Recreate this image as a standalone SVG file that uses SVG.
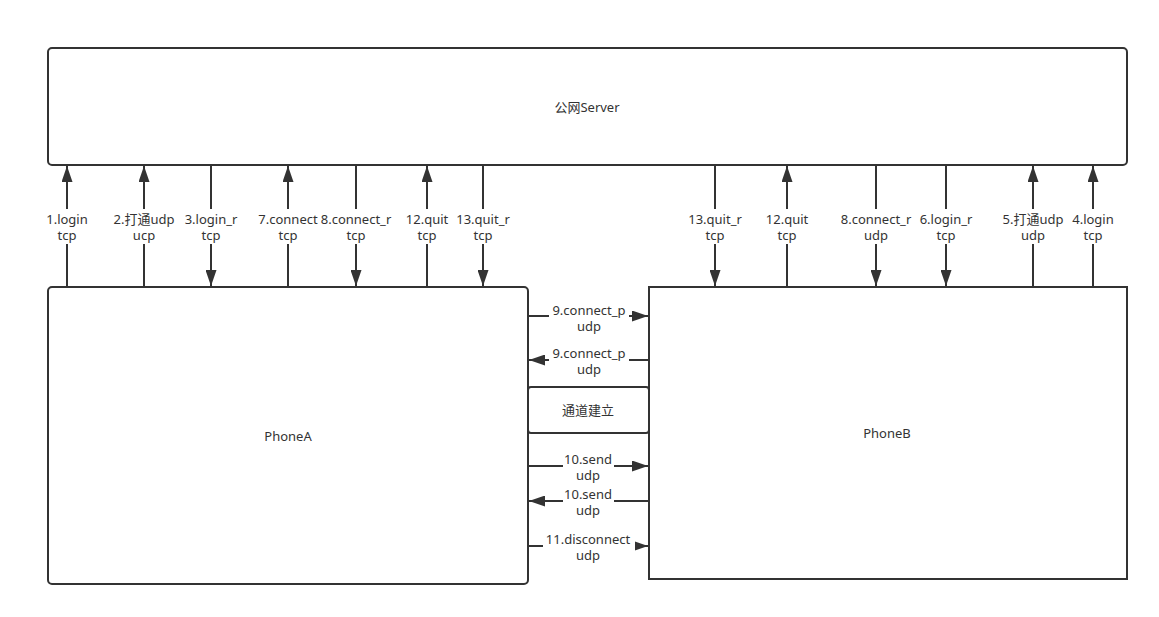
<svg xmlns="http://www.w3.org/2000/svg" width="1159" height="617" viewBox="0 0 1159 617">
<style>
.box{fill:#fff;stroke:#333;stroke-width:2}
.ln{stroke:#333;stroke-width:2;fill:none}
.up{marker-end:url(#ah)}
.t{font-family:"Noto Sans","Noto Sans CJK SC",sans-serif;font-size:13px;fill:#333;text-anchor:middle}
.bg{fill:#fff}
</style>
<defs>
<marker id="ah" markerUnits="userSpaceOnUse" markerWidth="16" markerHeight="11" refX="16" refY="5.5" orient="auto">
<path d="M0,0 L16,5.5 L0,11 z" fill="#333"/>
</marker>
</defs>
<rect width="1159" height="617" fill="#fff"/>
<g id="server"><rect class="box" x="48" y="48" width="1079" height="117" rx="4"/><text class="t" x="587" y="112">公网Server</text></g>
<g id="phoneA"><rect class="box" x="48" y="287" width="480" height="297" rx="4"/><text class="t" x="288" y="441">PhoneA</text></g>
<g id="phoneB"><rect class="box" x="649" y="287" width="478" height="292"/><text class="t" x="887" y="438">PhoneB</text></g>
<g id="tunnel"><rect class="box" x="528" y="387" width="121" height="46" rx="3"/><text class="t" x="588" y="415">通道建立</text></g>
<g id="connectors">
<line class="ln up" x1="67" y1="286" x2="67" y2="166"/>
<line class="ln up" x1="144" y1="286" x2="144" y2="166"/>
<line class="ln up" x1="211" y1="166" x2="211" y2="286"/>
<line class="ln up" x1="288" y1="286" x2="288" y2="166"/>
<line class="ln up" x1="356" y1="166" x2="356" y2="286"/>
<line class="ln up" x1="427" y1="286" x2="427" y2="166"/>
<line class="ln up" x1="483" y1="166" x2="483" y2="286"/>
<line class="ln up" x1="715" y1="166" x2="715" y2="286"/>
<line class="ln up" x1="787" y1="286" x2="787" y2="166"/>
<line class="ln up" x1="876" y1="166" x2="876" y2="286"/>
<line class="ln up" x1="946" y1="166" x2="946" y2="286"/>
<line class="ln up" x1="1033" y1="286" x2="1033" y2="166"/>
<line class="ln up" x1="1093" y1="286" x2="1093" y2="166"/>
<line class="ln up" x1="529" y1="316" x2="648" y2="316"/>
<line class="ln up" x1="648" y1="360" x2="529" y2="360"/>
<line class="ln up" x1="529" y1="466" x2="648" y2="466"/>
<line class="ln up" x1="648" y1="501" x2="529" y2="501"/>
<line class="ln up" x1="529" y1="546" x2="648" y2="546"/>
<g id="labels">
<rect class="bg" x="44" y="209" width="46" height="35"/>
<rect class="bg" x="113" y="209" width="62" height="35"/>
<rect class="bg" x="184" y="209" width="54" height="35"/>
<rect class="bg" x="256" y="209" width="64" height="35"/>
<rect class="bg" x="320" y="209" width="72" height="35"/>
<rect class="bg" x="403" y="209" width="48" height="35"/>
<rect class="bg" x="455" y="209" width="56" height="35"/>
<rect class="bg" x="688" y="209" width="54" height="35"/>
<rect class="bg" x="763" y="209" width="48" height="35"/>
<rect class="bg" x="838" y="209" width="76" height="35"/>
<rect class="bg" x="918" y="209" width="56" height="35"/>
<rect class="bg" x="1002" y="209" width="62" height="35"/>
<rect class="bg" x="1070" y="209" width="46" height="35"/>
<rect class="bg" x="549" y="303" width="80" height="30"/>
<rect class="bg" x="549" y="346" width="80" height="30"/>
<rect class="bg" x="563" y="452" width="51" height="30"/>
<rect class="bg" x="563" y="487" width="51" height="30"/>
<rect class="bg" x="543" y="532" width="92" height="30"/>
<text class="t" x="67" y="224">1.login<tspan x="67" dy="16">tcp</tspan></text>
<text class="t" x="144" y="224">2.打通udp<tspan x="144" dy="16">ucp</tspan></text>
<text class="t" x="211" y="224">3.login_r<tspan x="211" dy="16">tcp</tspan></text>
<text class="t" x="288" y="224">7.connect<tspan x="288" dy="16">tcp</tspan></text>
<text class="t" x="356" y="224">8.connect_r<tspan x="356" dy="16">tcp</tspan></text>
<text class="t" x="427" y="224">12.quit<tspan x="427" dy="16">tcp</tspan></text>
<text class="t" x="483" y="224">13.quit_r<tspan x="483" dy="16">tcp</tspan></text>
<text class="t" x="715" y="224">13.quit_r<tspan x="715" dy="16">tcp</tspan></text>
<text class="t" x="787" y="224">12.quit<tspan x="787" dy="16">tcp</tspan></text>
<text class="t" x="876" y="224">8.connect_r<tspan x="876" dy="16">udp</tspan></text>
<text class="t" x="946" y="224">6.login_r<tspan x="946" dy="16">tcp</tspan></text>
<text class="t" x="1033" y="224">5.打通udp<tspan x="1033" dy="16">udp</tspan></text>
<text class="t" x="1093" y="224">4.login<tspan x="1093" dy="16">tcp</tspan></text>
<text class="t" x="589" y="315">9.connect_p<tspan x="589" dy="16">udp</tspan></text>
<text class="t" x="589" y="358">9.connect_p<tspan x="589" dy="16">udp</tspan></text>
<text class="t" x="588" y="464">10.send<tspan x="588" dy="16">udp</tspan></text>
<text class="t" x="588" y="499">10.send<tspan x="588" dy="16">udp</tspan></text>
<text class="t" x="588" y="544">11.disconnect<tspan x="588" dy="16">udp</tspan></text>
</g>
</g>
</svg>
